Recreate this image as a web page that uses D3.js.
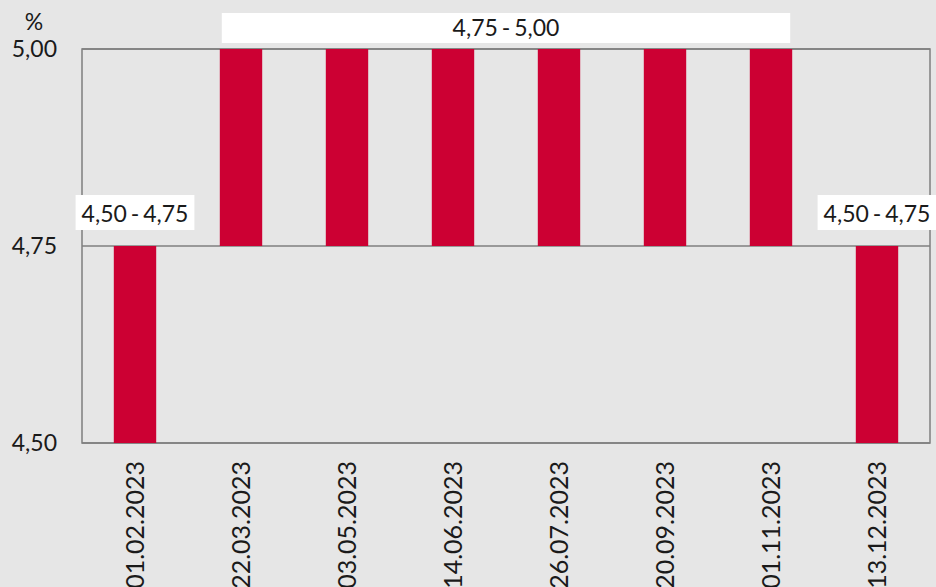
<!DOCTYPE html>
<html>
<head>
<meta charset="utf-8">
<script src="https://cdn.jsdelivr.net/npm/d3@7"></script>
<style>
  body { margin: 0; background: #e6e6e6; }
  text { font-family: Lato, "Open Sans", sans-serif; fill: #1a1a1a; }
</style>
</head>
<body>
<div id="chart"></div>
<script>
var dates = ["01.02.2023", "22.03.2023", "03.05.2023", "14.06.2023", "26.07.2023", "20.09.2023", "01.11.2023", "13.12.2023"];
var lows  = [4.50, 4.75, 4.75, 4.75, 4.75, 4.75, 4.75, 4.50];
var highs = [4.75, 5.00, 5.00, 5.00, 5.00, 5.00, 5.00, 4.75];
var yTicks = [4.50, 4.75, 5.00];
// range labels: text, first bar, last bar
var rangeText  = ["4,50 - 4,75", "4,75 - 5,00", "4,50 - 4,75"];
var rangeFrom  = [0, 1, 7];
var rangeTo    = [0, 6, 7];

var w = 936, h = 587,
    p = {top: 49, right: 6, left: 82, bot: 144};

var svg = d3.select("#chart").append("svg")
  .attr("width", w)
  .attr("height", h);

var x = d3.scaleBand()
  .domain(dates)
  .range([p.left, w - p.right])
  .paddingInner(0.6)
  .paddingOuter(0.3);

var y = d3.scaleLinear()
  .domain([4.5, 5.0])
  .range([h - p.bot, p.top]);

var fmt = function(v){ return d3.format(".2f")(v).replace(".", ","); };

// plot frame
svg.append("rect")
  .attr("x", p.left)
  .attr("y", p.top)
  .attr("width", w - p.right - p.left)
  .attr("height", h - p.bot - p.top)
  .style("fill", "none")
  .style("stroke", "#7f7f7f")
  .style("stroke-width", 1.5);

svg.selectAll(".grid")
  .data(yTicks)
  .enter().append("line")
    .attr("x1", p.left)
    .attr("x2", w - p.right)
    .attr("y1", function(d){ return y(d); })
    .attr("y2", function(d){ return y(d); })
    .style("stroke", "#7f7f7f")
    .style("stroke-width", 1.5);

// bars
svg.selectAll(".bar")
  .data(dates)
  .enter().append("rect")
    .attr("x", function(d){ return x(d); })
    .attr("y", function(d, i){ return y(highs[i]); })
    .attr("width", x.bandwidth())
    .attr("height", function(d, i){ return y(lows[i]) - y(highs[i]); })
    .style("fill", "#cc0033");

// y axis labels
var yAxis = d3.axisLeft(y).tickValues(yTicks).tickFormat(fmt).tickSize(0).tickPadding(25);
var gy = svg.append("g")
  .attr("transform", "translate(" + p.left + ",0)")
  .call(yAxis);
gy.select(".domain").remove();
gy.selectAll("text")
  .style("font-size", "23px")
  .style("font-family", "Lato, sans-serif")
  .attr("fill", "#1a1a1a");

svg.append("text")
  .attr("x", 34)
  .attr("y", 30)
  .style("text-anchor", "middle")
  .style("font-size", "23px")
  .text("%");

// x axis labels
var xAxis = d3.axisBottom(x).tickSize(0).tickPadding(0);
var gx = svg.append("g")
  .attr("transform", "translate(0," + (h - p.bot) + ")")
  .call(xAxis);
gx.select(".domain").remove();
gx.selectAll("text")
  .attr("transform", "rotate(-90)")
  .attr("x", -18)
  .attr("y", 0)
  .attr("dy", "0.35em")
  .style("text-anchor", "end")
  .style("font-size", "25px")
  .style("font-family", "Lato, sans-serif")
  .attr("fill", "#1a1a1a");

// range labels with white boxes
rangeText.forEach(function(t, i){
  var a = x(dates[rangeFrom[i]]),
      b = x(dates[rangeTo[i]]) + x.bandwidth(),
      yv = y(highs[rangeFrom[i]]);
  var single = rangeFrom[i] == rangeTo[i];
  var cx = (a + b) / 2;
  var g = svg.append("g");
  var txt = g.append("text")
    .attr("x", cx)
    .attr("y", single ? yv - 24 : yv - 13)
    .style("text-anchor", "middle")
    .style("font-size", "23px")
    .style("word-spacing", "-2px")
    .text(t);
  var bb = txt.node().getBBox();
  var bw = single ? bb.width + 12 : b - a - 4;
  var bh = single ? 35 : 30;
  g.insert("rect", "text")
    .attr("x", single ? bb.x - 6 : cx - bw / 2)
    .attr("y", single ? yv - 51 : yv - 36)
    .attr("width", bw)
    .attr("height", bh)
    .style("fill", "#ffffff");
});
</script>
</body>
</html>
